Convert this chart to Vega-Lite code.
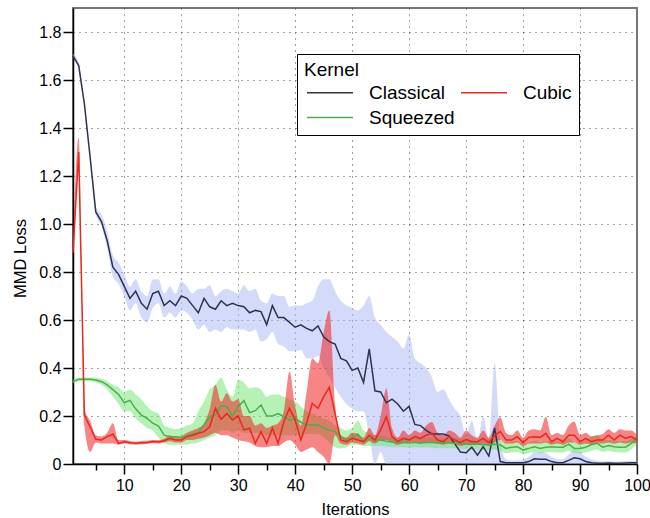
{
  "$schema": "https://vega.github.io/schema/vega-lite/v6.json",
  "autosize": {"type": "none"},
  "width": 564,
  "height": 456,
  "padding": {"left": 73, "top": 8, "right": 13, "bottom": 54},
  "background": "white",
  "config": {
    "view": {"stroke": "#777", "strokeWidth": 2},
    "font": "Liberation Sans",
    "axis": {
      "domainColor": "black", "domainWidth": 1.5,
      "tickColor": "black", "tickWidth": 1.5,
      "labelFont": "Liberation Sans", "labelFontSize": 16, "labelColor": "black",
      "titleFont": "Liberation Sans", "titleFontSize": 16.5, "titleFontWeight": "normal", "titleColor": "black",
      "gridColor": "#444", "gridDash": [1, 5], "gridWidth": 1
    }
  },
  "data": {"values": [
{"i":1,"k":"Classical","m":1.70,"lo":1.69,"hi":1.71},
{"i":2,"k":"Classical","m":1.66,"lo":1.65,"hi":1.67},
{"i":3,"k":"Classical","m":1.50,"lo":1.49,"hi":1.51},
{"i":4,"k":"Classical","m":1.28,"lo":1.27,"hi":1.29},
{"i":5,"k":"Classical","m":1.05,"lo":1.04,"hi":1.07},
{"i":6,"k":"Classical","m":1.01,"lo":0.99,"hi":1.04},
{"i":7,"k":"Classical","m":0.93,"lo":0.90,"hi":0.97},
{"i":8,"k":"Classical","m":0.82,"lo":0.78,"hi":0.87},
{"i":9,"k":"Classical","m":0.79,"lo":0.75,"hi":0.84},
{"i":10,"k":"Classical","m":0.74,"lo":0.70,"hi":0.79},
{"i":11,"k":"Classical","m":0.69,"lo":0.64,"hi":0.74},
{"i":12,"k":"Classical","m":0.72,"lo":0.67,"hi":0.77},
{"i":13,"k":"Classical","m":0.67,"lo":0.61,"hi":0.72},
{"i":14,"k":"Classical","m":0.645,"lo":0.59,"hi":0.70},
{"i":15,"k":"Classical","m":0.71,"lo":0.65,"hi":0.77},
{"i":16,"k":"Classical","m":0.72,"lo":0.67,"hi":0.77},
{"i":17,"k":"Classical","m":0.66,"lo":0.61,"hi":0.71},
{"i":18,"k":"Classical","m":0.68,"lo":0.63,"hi":0.74},
{"i":19,"k":"Classical","m":0.66,"lo":0.61,"hi":0.71},
{"i":20,"k":"Classical","m":0.70,"lo":0.64,"hi":0.76},
{"i":21,"k":"Classical","m":0.69,"lo":0.63,"hi":0.74},
{"i":22,"k":"Classical","m":0.66,"lo":0.60,"hi":0.71},
{"i":23,"k":"Classical","m":0.63,"lo":0.56,"hi":0.73},
{"i":24,"k":"Classical","m":0.69,"lo":0.58,"hi":0.73},
{"i":25,"k":"Classical","m":0.655,"lo":0.55,"hi":0.745},
{"i":26,"k":"Classical","m":0.645,"lo":0.56,"hi":0.70},
{"i":27,"k":"Classical","m":0.68,"lo":0.55,"hi":0.72},
{"i":28,"k":"Classical","m":0.66,"lo":0.57,"hi":0.73},
{"i":29,"k":"Classical","m":0.67,"lo":0.56,"hi":0.72},
{"i":30,"k":"Classical","m":0.66,"lo":0.56,"hi":0.71},
{"i":31,"k":"Classical","m":0.655,"lo":0.56,"hi":0.745},
{"i":32,"k":"Classical","m":0.63,"lo":0.55,"hi":0.72},
{"i":33,"k":"Classical","m":0.64,"lo":0.56,"hi":0.73},
{"i":34,"k":"Classical","m":0.635,"lo":0.51,"hi":0.68},
{"i":35,"k":"Classical","m":0.58,"lo":0.52,"hi":0.67},
{"i":36,"k":"Classical","m":0.66,"lo":0.55,"hi":0.71},
{"i":37,"k":"Classical","m":0.61,"lo":0.50,"hi":0.70},
{"i":38,"k":"Classical","m":0.61,"lo":0.49,"hi":0.70},
{"i":39,"k":"Classical","m":0.59,"lo":0.47,"hi":0.655},
{"i":40,"k":"Classical","m":0.57,"lo":0.47,"hi":0.66},
{"i":41,"k":"Classical","m":0.58,"lo":0.475,"hi":0.66},
{"i":42,"k":"Classical","m":0.565,"lo":0.44,"hi":0.67},
{"i":43,"k":"Classical","m":0.555,"lo":0.44,"hi":0.68},
{"i":44,"k":"Classical","m":0.575,"lo":0.45,"hi":0.74},
{"i":45,"k":"Classical","m":0.53,"lo":0.40,"hi":0.77},
{"i":46,"k":"Classical","m":0.51,"lo":0.36,"hi":0.77},
{"i":47,"k":"Classical","m":0.50,"lo":0.32,"hi":0.72},
{"i":48,"k":"Classical","m":0.44,"lo":0.28,"hi":0.68},
{"i":49,"k":"Classical","m":0.43,"lo":0.25,"hi":0.66},
{"i":50,"k":"Classical","m":0.39,"lo":0.23,"hi":0.65},
{"i":51,"k":"Classical","m":0.40,"lo":0.22,"hi":0.64},
{"i":52,"k":"Classical","m":0.34,"lo":0.22,"hi":0.66},
{"i":53,"k":"Classical","m":0.48,"lo":0.12,"hi":0.70},
{"i":54,"k":"Classical","m":0.305,"lo":0.0,"hi":0.61},
{"i":55,"k":"Classical","m":0.30,"lo":0.05,"hi":0.58},
{"i":56,"k":"Classical","m":0.255,"lo":0.0,"hi":0.55},
{"i":57,"k":"Classical","m":0.27,"lo":0.0,"hi":0.53},
{"i":58,"k":"Classical","m":0.25,"lo":0.0,"hi":0.51},
{"i":59,"k":"Classical","m":0.22,"lo":0.0,"hi":0.48},
{"i":60,"k":"Classical","m":0.24,"lo":0.0,"hi":0.54},
{"i":61,"k":"Classical","m":0.165,"lo":0.0,"hi":0.44},
{"i":62,"k":"Classical","m":0.16,"lo":0.0,"hi":0.42},
{"i":63,"k":"Classical","m":0.14,"lo":0.0,"hi":0.40},
{"i":64,"k":"Classical","m":0.125,"lo":0.0,"hi":0.36},
{"i":65,"k":"Classical","m":0.125,"lo":0.0,"hi":0.30},
{"i":66,"k":"Classical","m":0.125,"lo":0.0,"hi":0.31},
{"i":67,"k":"Classical","m":0.117,"lo":0.0,"hi":0.27},
{"i":68,"k":"Classical","m":0.085,"lo":0.0,"hi":0.23},
{"i":69,"k":"Classical","m":0.05,"lo":0.0,"hi":0.20},
{"i":70,"k":"Classical","m":0.047,"lo":0.0,"hi":0.12},
{"i":71,"k":"Classical","m":0.07,"lo":0.0,"hi":0.18},
{"i":72,"k":"Classical","m":0.037,"lo":0.0,"hi":0.10},
{"i":73,"k":"Classical","m":0.072,"lo":0.0,"hi":0.20},
{"i":74,"k":"Classical","m":0.033,"lo":0.0,"hi":0.10},
{"i":75,"k":"Classical","m":0.15,"lo":0.0,"hi":0.42},
{"i":76,"k":"Classical","m":0.01,"lo":0.0,"hi":0.10},
{"i":77,"k":"Classical","m":0.005,"lo":0.0,"hi":0.02},
{"i":78,"k":"Classical","m":0.005,"lo":0.0,"hi":0.015},
{"i":79,"k":"Classical","m":0.005,"lo":0.0,"hi":0.015},
{"i":80,"k":"Classical","m":0.005,"lo":0.0,"hi":0.02},
{"i":81,"k":"Classical","m":0.01,"lo":0.0,"hi":0.03},
{"i":82,"k":"Classical","m":0.022,"lo":0.0,"hi":0.05},
{"i":83,"k":"Classical","m":0.02,"lo":0.0,"hi":0.05},
{"i":84,"k":"Classical","m":0.02,"lo":0.0,"hi":0.045},
{"i":85,"k":"Classical","m":0.01,"lo":0.0,"hi":0.03},
{"i":86,"k":"Classical","m":0.005,"lo":0.0,"hi":0.02},
{"i":87,"k":"Classical","m":0.005,"lo":0.0,"hi":0.02},
{"i":88,"k":"Classical","m":0.015,"lo":0.0,"hi":0.04},
{"i":89,"k":"Classical","m":0.026,"lo":0.0,"hi":0.06},
{"i":90,"k":"Classical","m":0.022,"lo":0.0,"hi":0.05},
{"i":91,"k":"Classical","m":0.01,"lo":0.0,"hi":0.03},
{"i":92,"k":"Classical","m":0.005,"lo":0.0,"hi":0.02},
{"i":93,"k":"Classical","m":0.003,"lo":0.0,"hi":0.015},
{"i":94,"k":"Classical","m":0.003,"lo":0.0,"hi":0.01},
{"i":95,"k":"Classical","m":0.004,"lo":0.0,"hi":0.012},
{"i":96,"k":"Classical","m":0.003,"lo":0.0,"hi":0.01},
{"i":97,"k":"Classical","m":0.003,"lo":0.0,"hi":0.01},
{"i":98,"k":"Classical","m":0.004,"lo":0.0,"hi":0.012},
{"i":99,"k":"Classical","m":0.005,"lo":0.0,"hi":0.012},
{"i":100,"k":"Classical","m":0.005,"lo":0.0,"hi":0.012},
{"i":1,"k":"Squeezed","m":0.343,"lo":0.335,"hi":0.35},
{"i":2,"k":"Squeezed","m":0.353,"lo":0.345,"hi":0.36},
{"i":3,"k":"Squeezed","m":0.353,"lo":0.345,"hi":0.36},
{"i":4,"k":"Squeezed","m":0.353,"lo":0.345,"hi":0.36},
{"i":5,"k":"Squeezed","m":0.35,"lo":0.34,"hi":0.36},
{"i":6,"k":"Squeezed","m":0.343,"lo":0.33,"hi":0.355},
{"i":7,"k":"Squeezed","m":0.33,"lo":0.31,"hi":0.345},
{"i":8,"k":"Squeezed","m":0.31,"lo":0.28,"hi":0.33},
{"i":9,"k":"Squeezed","m":0.29,"lo":0.25,"hi":0.32},
{"i":10,"k":"Squeezed","m":0.255,"lo":0.22,"hi":0.30},
{"i":11,"k":"Squeezed","m":0.265,"lo":0.22,"hi":0.31},
{"i":12,"k":"Squeezed","m":0.23,"lo":0.19,"hi":0.29},
{"i":13,"k":"Squeezed","m":0.204,"lo":0.17,"hi":0.27},
{"i":14,"k":"Squeezed","m":0.19,"lo":0.15,"hi":0.24},
{"i":15,"k":"Squeezed","m":0.17,"lo":0.14,"hi":0.22},
{"i":16,"k":"Squeezed","m":0.158,"lo":0.11,"hi":0.21},
{"i":17,"k":"Squeezed","m":0.12,"lo":0.085,"hi":0.16},
{"i":18,"k":"Squeezed","m":0.114,"lo":0.08,"hi":0.15},
{"i":19,"k":"Squeezed","m":0.114,"lo":0.08,"hi":0.145},
{"i":20,"k":"Squeezed","m":0.111,"lo":0.08,"hi":0.15},
{"i":21,"k":"Squeezed","m":0.117,"lo":0.08,"hi":0.16},
{"i":22,"k":"Squeezed","m":0.125,"lo":0.085,"hi":0.17},
{"i":23,"k":"Squeezed","m":0.13,"lo":0.09,"hi":0.22},
{"i":24,"k":"Squeezed","m":0.163,"lo":0.10,"hi":0.26},
{"i":25,"k":"Squeezed","m":0.197,"lo":0.11,"hi":0.31},
{"i":26,"k":"Squeezed","m":0.204,"lo":0.12,"hi":0.33},
{"i":27,"k":"Squeezed","m":0.243,"lo":0.14,"hi":0.36},
{"i":28,"k":"Squeezed","m":0.24,"lo":0.14,"hi":0.31},
{"i":29,"k":"Squeezed","m":0.197,"lo":0.13,"hi":0.28},
{"i":30,"k":"Squeezed","m":0.24,"lo":0.14,"hi":0.35},
{"i":31,"k":"Squeezed","m":0.264,"lo":0.13,"hi":0.34},
{"i":32,"k":"Squeezed","m":0.214,"lo":0.13,"hi":0.315},
{"i":33,"k":"Squeezed","m":0.222,"lo":0.13,"hi":0.32},
{"i":34,"k":"Squeezed","m":0.246,"lo":0.13,"hi":0.31},
{"i":35,"k":"Squeezed","m":0.20,"lo":0.12,"hi":0.28},
{"i":36,"k":"Squeezed","m":0.20,"lo":0.12,"hi":0.29},
{"i":37,"k":"Squeezed","m":0.21,"lo":0.12,"hi":0.29},
{"i":38,"k":"Squeezed","m":0.197,"lo":0.12,"hi":0.28},
{"i":39,"k":"Squeezed","m":0.183,"lo":0.12,"hi":0.27},
{"i":40,"k":"Squeezed","m":0.19,"lo":0.12,"hi":0.26},
{"i":41,"k":"Squeezed","m":0.174,"lo":0.12,"hi":0.24},
{"i":42,"k":"Squeezed","m":0.163,"lo":0.125,"hi":0.22},
{"i":43,"k":"Squeezed","m":0.163,"lo":0.125,"hi":0.21},
{"i":44,"k":"Squeezed","m":0.163,"lo":0.125,"hi":0.20},
{"i":45,"k":"Squeezed","m":0.149,"lo":0.11,"hi":0.19},
{"i":46,"k":"Squeezed","m":0.14,"lo":0.09,"hi":0.18},
{"i":47,"k":"Squeezed","m":0.135,"lo":0.07,"hi":0.16},
{"i":48,"k":"Squeezed","m":0.114,"lo":0.065,"hi":0.15},
{"i":49,"k":"Squeezed","m":0.10,"lo":0.07,"hi":0.14},
{"i":50,"k":"Squeezed","m":0.107,"lo":0.08,"hi":0.15},
{"i":51,"k":"Squeezed","m":0.125,"lo":0.08,"hi":0.18},
{"i":52,"k":"Squeezed","m":0.093,"lo":0.075,"hi":0.14},
{"i":53,"k":"Squeezed","m":0.107,"lo":0.075,"hi":0.13},
{"i":54,"k":"Squeezed","m":0.10,"lo":0.075,"hi":0.12},
{"i":55,"k":"Squeezed","m":0.10,"lo":0.075,"hi":0.12},
{"i":56,"k":"Squeezed","m":0.095,"lo":0.072,"hi":0.115},
{"i":57,"k":"Squeezed","m":0.092,"lo":0.07,"hi":0.112},
{"i":58,"k":"Squeezed","m":0.09,"lo":0.07,"hi":0.11},
{"i":59,"k":"Squeezed","m":0.092,"lo":0.07,"hi":0.112},
{"i":60,"k":"Squeezed","m":0.09,"lo":0.068,"hi":0.11},
{"i":61,"k":"Squeezed","m":0.09,"lo":0.07,"hi":0.11},
{"i":62,"k":"Squeezed","m":0.088,"lo":0.068,"hi":0.108},
{"i":63,"k":"Squeezed","m":0.09,"lo":0.07,"hi":0.11},
{"i":64,"k":"Squeezed","m":0.09,"lo":0.068,"hi":0.11},
{"i":65,"k":"Squeezed","m":0.088,"lo":0.066,"hi":0.108},
{"i":66,"k":"Squeezed","m":0.087,"lo":0.066,"hi":0.107},
{"i":67,"k":"Squeezed","m":0.088,"lo":0.066,"hi":0.108},
{"i":68,"k":"Squeezed","m":0.086,"lo":0.065,"hi":0.106},
{"i":69,"k":"Squeezed","m":0.085,"lo":0.064,"hi":0.105},
{"i":70,"k":"Squeezed","m":0.083,"lo":0.062,"hi":0.103},
{"i":71,"k":"Squeezed","m":0.082,"lo":0.06,"hi":0.102},
{"i":72,"k":"Squeezed","m":0.083,"lo":0.06,"hi":0.103},
{"i":73,"k":"Squeezed","m":0.08,"lo":0.058,"hi":0.10},
{"i":74,"k":"Squeezed","m":0.08,"lo":0.058,"hi":0.105},
{"i":75,"k":"Squeezed","m":0.082,"lo":0.06,"hi":0.11},
{"i":76,"k":"Squeezed","m":0.08,"lo":0.055,"hi":0.10},
{"i":77,"k":"Squeezed","m":0.065,"lo":0.045,"hi":0.09},
{"i":78,"k":"Squeezed","m":0.07,"lo":0.048,"hi":0.095},
{"i":79,"k":"Squeezed","m":0.072,"lo":0.05,"hi":0.097},
{"i":80,"k":"Squeezed","m":0.058,"lo":0.04,"hi":0.085},
{"i":81,"k":"Squeezed","m":0.065,"lo":0.045,"hi":0.09},
{"i":82,"k":"Squeezed","m":0.072,"lo":0.05,"hi":0.097},
{"i":83,"k":"Squeezed","m":0.065,"lo":0.045,"hi":0.09},
{"i":84,"k":"Squeezed","m":0.07,"lo":0.048,"hi":0.095},
{"i":85,"k":"Squeezed","m":0.072,"lo":0.05,"hi":0.097},
{"i":86,"k":"Squeezed","m":0.07,"lo":0.048,"hi":0.095},
{"i":87,"k":"Squeezed","m":0.07,"lo":0.048,"hi":0.095},
{"i":88,"k":"Squeezed","m":0.083,"lo":0.055,"hi":0.105},
{"i":89,"k":"Squeezed","m":0.065,"lo":0.045,"hi":0.09},
{"i":90,"k":"Squeezed","m":0.065,"lo":0.045,"hi":0.09},
{"i":91,"k":"Squeezed","m":0.07,"lo":0.048,"hi":0.10},
{"i":92,"k":"Squeezed","m":0.08,"lo":0.055,"hi":0.115},
{"i":93,"k":"Squeezed","m":0.086,"lo":0.06,"hi":0.12},
{"i":94,"k":"Squeezed","m":0.07,"lo":0.05,"hi":0.10},
{"i":95,"k":"Squeezed","m":0.077,"lo":0.055,"hi":0.10},
{"i":96,"k":"Squeezed","m":0.072,"lo":0.05,"hi":0.097},
{"i":97,"k":"Squeezed","m":0.07,"lo":0.048,"hi":0.095},
{"i":98,"k":"Squeezed","m":0.07,"lo":0.048,"hi":0.095},
{"i":99,"k":"Squeezed","m":0.086,"lo":0.06,"hi":0.105},
{"i":100,"k":"Squeezed","m":0.10,"lo":0.085,"hi":0.115},
{"i":1,"k":"Cubic","m":0.88,"lo":0.86,"hi":0.90},
{"i":2,"k":"Cubic","m":1.30,"lo":1.24,"hi":1.36},
{"i":3,"k":"Cubic","m":0.204,"lo":0.16,"hi":0.23},
{"i":4,"k":"Cubic","m":0.155,"lo":0.05,"hi":0.18},
{"i":5,"k":"Cubic","m":0.103,"lo":0.09,"hi":0.12},
{"i":6,"k":"Cubic","m":0.10,"lo":0.085,"hi":0.115},
{"i":7,"k":"Cubic","m":0.114,"lo":0.085,"hi":0.13},
{"i":8,"k":"Cubic","m":0.125,"lo":0.085,"hi":0.17},
{"i":9,"k":"Cubic","m":0.086,"lo":0.08,"hi":0.10},
{"i":10,"k":"Cubic","m":0.093,"lo":0.085,"hi":0.10},
{"i":11,"k":"Cubic","m":0.089,"lo":0.082,"hi":0.096},
{"i":12,"k":"Cubic","m":0.086,"lo":0.08,"hi":0.093},
{"i":13,"k":"Cubic","m":0.089,"lo":0.082,"hi":0.096},
{"i":14,"k":"Cubic","m":0.09,"lo":0.083,"hi":0.097},
{"i":15,"k":"Cubic","m":0.094,"lo":0.086,"hi":0.10},
{"i":16,"k":"Cubic","m":0.092,"lo":0.085,"hi":0.10},
{"i":17,"k":"Cubic","m":0.097,"lo":0.09,"hi":0.105},
{"i":18,"k":"Cubic","m":0.107,"lo":0.095,"hi":0.12},
{"i":19,"k":"Cubic","m":0.10,"lo":0.09,"hi":0.11},
{"i":20,"k":"Cubic","m":0.10,"lo":0.09,"hi":0.115},
{"i":21,"k":"Cubic","m":0.114,"lo":0.10,"hi":0.13},
{"i":22,"k":"Cubic","m":0.12,"lo":0.10,"hi":0.14},
{"i":23,"k":"Cubic","m":0.128,"lo":0.105,"hi":0.15},
{"i":24,"k":"Cubic","m":0.135,"lo":0.11,"hi":0.17},
{"i":25,"k":"Cubic","m":0.155,"lo":0.12,"hi":0.23},
{"i":26,"k":"Cubic","m":0.232,"lo":0.13,"hi":0.33},
{"i":27,"k":"Cubic","m":0.186,"lo":0.12,"hi":0.26},
{"i":28,"k":"Cubic","m":0.21,"lo":0.12,"hi":0.295},
{"i":29,"k":"Cubic","m":0.183,"lo":0.11,"hi":0.26},
{"i":30,"k":"Cubic","m":0.20,"lo":0.10,"hi":0.27},
{"i":31,"k":"Cubic","m":0.142,"lo":0.095,"hi":0.20},
{"i":32,"k":"Cubic","m":0.149,"lo":0.09,"hi":0.20},
{"i":33,"k":"Cubic","m":0.086,"lo":0.075,"hi":0.16},
{"i":34,"k":"Cubic","m":0.135,"lo":0.07,"hi":0.17},
{"i":35,"k":"Cubic","m":0.086,"lo":0.07,"hi":0.15},
{"i":36,"k":"Cubic","m":0.149,"lo":0.075,"hi":0.16},
{"i":37,"k":"Cubic","m":0.086,"lo":0.075,"hi":0.17},
{"i":38,"k":"Cubic","m":0.176,"lo":0.09,"hi":0.22},
{"i":39,"k":"Cubic","m":0.232,"lo":0.10,"hi":0.385},
{"i":40,"k":"Cubic","m":0.183,"lo":0.08,"hi":0.24},
{"i":41,"k":"Cubic","m":0.10,"lo":0.05,"hi":0.16},
{"i":42,"k":"Cubic","m":0.17,"lo":0.06,"hi":0.30},
{"i":43,"k":"Cubic","m":0.253,"lo":0.07,"hi":0.44},
{"i":44,"k":"Cubic","m":0.232,"lo":0.05,"hi":0.42},
{"i":45,"k":"Cubic","m":0.28,"lo":0.03,"hi":0.55},
{"i":46,"k":"Cubic","m":0.32,"lo":0.0,"hi":0.64},
{"i":47,"k":"Cubic","m":0.21,"lo":0.12,"hi":0.25},
{"i":48,"k":"Cubic","m":0.10,"lo":0.085,"hi":0.12},
{"i":49,"k":"Cubic","m":0.093,"lo":0.08,"hi":0.11},
{"i":50,"k":"Cubic","m":0.107,"lo":0.09,"hi":0.13},
{"i":51,"k":"Cubic","m":0.10,"lo":0.085,"hi":0.125},
{"i":52,"k":"Cubic","m":0.093,"lo":0.08,"hi":0.11},
{"i":53,"k":"Cubic","m":0.12,"lo":0.095,"hi":0.15},
{"i":54,"k":"Cubic","m":0.10,"lo":0.085,"hi":0.12},
{"i":55,"k":"Cubic","m":0.142,"lo":0.10,"hi":0.20},
{"i":56,"k":"Cubic","m":0.197,"lo":0.10,"hi":0.315},
{"i":57,"k":"Cubic","m":0.114,"lo":0.09,"hi":0.15},
{"i":58,"k":"Cubic","m":0.093,"lo":0.08,"hi":0.11},
{"i":59,"k":"Cubic","m":0.107,"lo":0.085,"hi":0.14},
{"i":60,"k":"Cubic","m":0.10,"lo":0.085,"hi":0.12},
{"i":61,"k":"Cubic","m":0.114,"lo":0.09,"hi":0.14},
{"i":62,"k":"Cubic","m":0.107,"lo":0.085,"hi":0.13},
{"i":63,"k":"Cubic","m":0.12,"lo":0.09,"hi":0.16},
{"i":64,"k":"Cubic","m":0.128,"lo":0.09,"hi":0.175},
{"i":65,"k":"Cubic","m":0.10,"lo":0.085,"hi":0.13},
{"i":66,"k":"Cubic","m":0.093,"lo":0.08,"hi":0.12},
{"i":67,"k":"Cubic","m":0.114,"lo":0.09,"hi":0.14},
{"i":68,"k":"Cubic","m":0.10,"lo":0.085,"hi":0.13},
{"i":69,"k":"Cubic","m":0.089,"lo":0.075,"hi":0.11},
{"i":70,"k":"Cubic","m":0.103,"lo":0.08,"hi":0.14},
{"i":71,"k":"Cubic","m":0.093,"lo":0.08,"hi":0.12},
{"i":72,"k":"Cubic","m":0.093,"lo":0.08,"hi":0.11},
{"i":73,"k":"Cubic","m":0.107,"lo":0.085,"hi":0.14},
{"i":74,"k":"Cubic","m":0.089,"lo":0.075,"hi":0.11},
{"i":75,"k":"Cubic","m":0.12,"lo":0.09,"hi":0.16},
{"i":76,"k":"Cubic","m":0.135,"lo":0.10,"hi":0.195},
{"i":77,"k":"Cubic","m":0.10,"lo":0.085,"hi":0.13},
{"i":78,"k":"Cubic","m":0.10,"lo":0.085,"hi":0.12},
{"i":79,"k":"Cubic","m":0.114,"lo":0.09,"hi":0.14},
{"i":80,"k":"Cubic","m":0.089,"lo":0.075,"hi":0.11},
{"i":81,"k":"Cubic","m":0.111,"lo":0.085,"hi":0.14},
{"i":82,"k":"Cubic","m":0.114,"lo":0.085,"hi":0.145},
{"i":83,"k":"Cubic","m":0.111,"lo":0.085,"hi":0.14},
{"i":84,"k":"Cubic","m":0.128,"lo":0.09,"hi":0.197},
{"i":85,"k":"Cubic","m":0.093,"lo":0.08,"hi":0.12},
{"i":86,"k":"Cubic","m":0.107,"lo":0.085,"hi":0.13},
{"i":87,"k":"Cubic","m":0.093,"lo":0.08,"hi":0.12},
{"i":88,"k":"Cubic","m":0.12,"lo":0.09,"hi":0.16},
{"i":89,"k":"Cubic","m":0.12,"lo":0.09,"hi":0.176},
{"i":90,"k":"Cubic","m":0.093,"lo":0.08,"hi":0.12},
{"i":91,"k":"Cubic","m":0.107,"lo":0.085,"hi":0.13},
{"i":92,"k":"Cubic","m":0.093,"lo":0.08,"hi":0.115},
{"i":93,"k":"Cubic","m":0.10,"lo":0.085,"hi":0.12},
{"i":94,"k":"Cubic","m":0.10,"lo":0.085,"hi":0.125},
{"i":95,"k":"Cubic","m":0.12,"lo":0.09,"hi":0.145},
{"i":96,"k":"Cubic","m":0.10,"lo":0.085,"hi":0.13},
{"i":97,"k":"Cubic","m":0.12,"lo":0.09,"hi":0.145},
{"i":98,"k":"Cubic","m":0.107,"lo":0.085,"hi":0.14},
{"i":99,"k":"Cubic","m":0.114,"lo":0.09,"hi":0.14},
{"i":100,"k":"Cubic","m":0.10,"lo":0.085,"hi":0.12}
  ]},
  "encoding": {
    "x": {
      "field": "i", "type": "quantitative", "title": "Iterations",
      "scale": {"domain": [1, 100], "nice": false, "zero": false},
      "axis": {
        "values": [5,10,15,20,25,30,35,40,45,50,55,60,65,70,75,80,85,90,95,100],
        "labelExpr": "datum.value % 10 == 0 ? datum.label : ''",
        "tickSize": {"condition": {"test": "datum.value % 10 == 0", "value": 10}, "value": 6},
        "grid": true,
        "gridOpacity": {"condition": {"test": "datum.value % 10 == 0 && datum.value < 100", "value": 1}, "value": 0},
        "labelPadding": 3, "titlePadding": 8, "labelFlush": false
      }
    }
  },
  "layer": [
    {
      "transform": [{"filter": "datum.k == 'Classical'"}],
      "mark": {"type": "area", "interpolate": "monotone", "color": "#a9b8f5", "opacity": 0.5},
      "encoding": {
        "y": {"field": "lo", "type": "quantitative", "title": "MMD Loss", "scale": {"domain": [0, 1.9], "nice": false}},
        "y2": {"field": "hi"}
      }
    },
    {
      "transform": [{"filter": "datum.k == 'Squeezed'"}],
      "mark": {"type": "area", "interpolate": "monotone", "color": "#6ee66e", "opacity": 0.5},
      "encoding": {
        "y": {"field": "lo", "type": "quantitative", "title": "MMD Loss", "scale": {"domain": [0, 1.9], "nice": false}},
        "y2": {"field": "hi"}
      }
    },
    {
      "transform": [{"filter": "datum.k == 'Cubic'"}],
      "mark": {"type": "area", "interpolate": "monotone", "color": "#ee2020", "opacity": 0.55},
      "encoding": {
        "y": {"field": "lo", "type": "quantitative", "title": "MMD Loss", "scale": {"domain": [0, 1.9], "nice": false}},
        "y2": {"field": "hi"}
      }
    },
    {
      "transform": [{"filter": "datum.k == 'Classical'"}],
      "mark": {"type": "line", "strokeWidth": 1.5},
      "encoding": {
        "y": {
          "field": "m", "type": "quantitative", "title": "MMD Loss",
          "scale": {"domain": [0, 1.9], "nice": false},
          "axis": {
            "values": [0,0.1,0.2,0.3,0.4,0.5,0.6,0.7,0.8,0.9,1.0,1.1,1.2,1.3,1.4,1.5,1.6,1.7,1.8],
            "labelExpr": "round(datum.value*10) % 2 == 0 ? (datum.value == 0 ? '0' : format(datum.value, '.1f')) : ''",
            "tickSize": {"condition": {"test": "round(datum.value*10) % 2 == 0", "value": 10}, "value": 6},
            "grid": true,
            "gridOpacity": {"condition": {"test": "round(datum.value*10) % 2 == 0 && datum.value > 0", "value": 1}, "value": 0},
            "labelPadding": 2, "titlePadding": 10, "titleY": 250
          }
        },
        "stroke": {
          "field": "k", "type": "nominal",
          "scale": {"domain": ["Classical", "Cubic", "Squeezed"], "range": ["#2d3250", "#e8291c", "#4cae4c"]},
          "legend": {
            "title": "Kernel", "orient": "none", "legendX": 224, "legendY": 46,
            "direction": "horizontal", "columns": 2, "gridAlign": "each",
            "strokeColor": "black", "padding": 7, "fillColor": "white",
            "symbolType": "stroke", "symbolSize": 2116, "symbolStrokeWidth": 1.3, "symbolOffset": 2,
            "clipHeight": 17,
            "labelFont": "Liberation Sans", "labelFontSize": 19, "labelColor": "black", "labelOffset": 15,
            "titleFont": "Liberation Sans", "titleFontSize": 19, "titleFontWeight": "normal", "titleColor": "black",
            "titlePadding": 4, "columnPadding": 3, "rowPadding": 5
          }
        }
      }
    },
    {
      "transform": [{"filter": "datum.k == 'Squeezed'"}],
      "mark": {"type": "line", "strokeWidth": 1.5},
      "encoding": {
        "y": {"field": "m", "type": "quantitative", "title": "MMD Loss", "scale": {"domain": [0, 1.9], "nice": false}},
        "stroke": {"field": "k", "type": "nominal"}
      }
    },
    {
      "transform": [{"filter": "datum.k == 'Cubic'"}],
      "mark": {"type": "line", "strokeWidth": 1.5},
      "encoding": {
        "y": {"field": "m", "type": "quantitative", "title": "MMD Loss", "scale": {"domain": [0, 1.9], "nice": false}},
        "stroke": {"field": "k", "type": "nominal"}
      }
    }
  ]
}
